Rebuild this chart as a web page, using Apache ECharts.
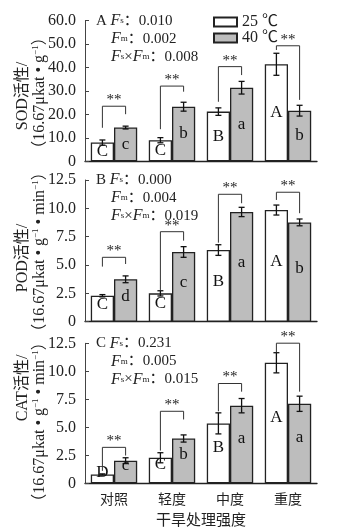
<!DOCTYPE html>
<html>
<head>
    <meta charset="utf-8">
    <script src="https://cdn.jsdelivr.net/npm/echarts@6/dist/echarts.min.js"></script>
</head>
<body style="margin:0;background:#fff;">
    <div id="main" style="width: 353px;height:531px;"></div>
    <script type="text/javascript">
        var categories = ['对照', '轻度', '中度', '重度'];

        // SOD
        var sod25 = [8.0, 9.0, 21.2, 41.4];
        var sod25Err = [1.1, 1.1, 1.6, 4.7];
        var sod40 = [14.4, 23.3, 31.4, 21.6];
        var sod40Err = [0.6, 1.9, 2.7, 2.3];
        var sodLetters25 = ['C', 'C', 'B', 'A'];
        var sodLetters40 = ['c', 'b', 'a', 'b'];
        // [横线高度, 左腿底, 右腿底]
        var sodBrackets = [[23.5, 14.3, 20.1], [32.1, 13.7, 29.7], [40.4, 25.4, 36.8], [49.3, 47.5, 26.2]];

        // POD
        var pod25 = [2.29, 2.5, 6.32, 9.85];
        var pod25Err = [0.1, 0.23, 0.47, 0.44];
        var pod40 = [3.74, 6.15, 9.68, 8.76];
        var pod40Err = [0.3, 0.47, 0.41, 0.3];
        var podLetters25 = ['C', 'C', 'B', 'A'];
        var podLetters40 = ['d', 'c', 'a', 'b'];
        var podBrackets = [[5.68, 4.86, 5.09], [7.94, 2.8, 7.15], [11.24, 6.97, 10.45], [11.42, 10.74, 9.57]];

        // CAT
        var cat25 = [0.79, 2.28, 5.35, 10.76];
        var cat25Err = [0.05, 0.45, 0.94, 0.9];
        var cat40 = [2.02, 4.0, 6.93, 7.1];
        var cat40Err = [0.26, 0.32, 0.64, 0.68];
        var catLetters25 = ['D', 'C', 'B', 'A'];
        var catLetters40 = ['c', 'b', 'a', 'a'];
        var catBrackets = [[3.21, 1.11, 2.48], [6.43, 2.92, 5.7], [8.91, 6.43, 8.18], [12.51, 11.69, 8.18]];

        var panelTags = ['A', 'B', 'C'];
        var statFs = ['0.010', '0.000', '0.231'];
        var statFm = ['0.002', '0.004', '0.005'];
        var statFsFm = ['0.008', '0.019', '0.015'];
        var yMax = [60, 12.5, 12.5];
        var yStep = [10, 2.5, 2.5];

        var panels = [
            { v25: sod25, e25: sod25Err, v40: sod40, e40: sod40Err, l25: sodLetters25, l40: sodLetters40, br: sodBrackets },
            { v25: pod25, e25: pod25Err, v40: pod40, e40: pod40Err, l25: podLetters25, l40: podLetters40, br: podBrackets },
            { v25: cat25, e25: cat25Err, v40: cat40, e40: cat40Err, l25: catLetters25, l40: catLetters40, br: catBrackets }
        ];

        var serif = "'Liberation Serif', 'Noto Sans CJK SC', serif";
        var gridTops = [20.7, 180, 343.3];
        var gridHeights = [140.6, 141.7, 140];
        var letterOffset = [[0, 0], [0, -4], [0, -6]];

        var myChart = echarts.init(document.getElementById('main'));

        function errRender(side) {
            return function (params, api) {
                var idx = api.value(0), v = api.value(1), e = api.value(2);
                var band = api.size([1, 0])[0];
                var c = api.coord([idx, v]);
                var x = c[0] + side * band * 0.2;
                var yHi = api.coord([idx, v + e])[1];
                var yLo = api.coord([idx, v - e])[1];
                var st = { stroke: '#111', lineWidth: 1.3 };
                return {
                    type: 'group',
                    children: [
                        { type: 'line', shape: { x1: x, y1: yHi, x2: x, y2: yLo }, style: st },
                        { type: 'line', shape: { x1: x - 3, y1: yHi, x2: x + 3, y2: yHi }, style: st },
                        { type: 'line', shape: { x1: x - 3, y1: yLo, x2: x + 3, y2: yLo }, style: st }
                    ]
                };
            };
        }

        function bracketRender(params, api) {
            var idx = api.value(0);
            var band = api.size([1, 0])[0];
            var top = api.coord([idx, api.value(1)]);
            var yL = api.coord([idx, api.value(2)])[1];
            var yR = api.coord([idx, api.value(3)])[1];
            var xl = top[0] - band * 0.2, xr = top[0] + band * 0.2;
            return {
                type: 'group',
                children: [
                    { type: 'polyline', shape: { points: [[xl, yL], [xl, top[1]], [xr, top[1]], [xr, yR]] },
                      style: { stroke: '#333', lineWidth: 1, fill: null } },
                    { type: 'text', style: { text: '**', x: top[0], y: top[1] - 6, align: 'center', verticalAlign: 'middle',
                      font: '15px ' + serif, fill: '#222' } }
                ]
            };
        }

        var grids = [], xAxes = [], yAxes = [], series = [], graphics = [];

        panels.forEach(function (p, i) {
            grids.push({ left: 85, top: gridTops[i], width: 232, height: gridHeights[i] });
            xAxes.push({
                type: 'category', gridIndex: i, data: categories,
                axisLine: { lineStyle: { color: '#222', width: 1.3 } },
                axisTick: { show: false },
                axisLabel: { show: i === 2, fontSize: 14, color: '#222', margin: 10, fontFamily: serif },
                name: i === 2 ? '干旱处理强度' : '', nameLocation: 'middle', nameGap: 30,
                nameTextStyle: { fontSize: 15, color: '#222', fontFamily: serif }
            });
            yAxes.push({
                type: 'value', gridIndex: i, min: 0, max: yMax[i], interval: yStep[i],
                axisLine: { show: true, lineStyle: { color: '#444', width: 1 } },
                axisTick: { show: true, inside: true, length: 4, lineStyle: { color: '#444' } },
                splitLine: { show: false },
                axisLabel: {
                    fontSize: 16, color: '#222', margin: 9, fontFamily: serif,
                    formatter: function (v) { return v === 0 ? '0' : v.toFixed(1); }
                }
            });
            var barCommon = {
                type: 'bar', xAxisIndex: i, yAxisIndex: i, barGap: '0%', barCategoryGap: '20%'
            };
            series.push(Object.assign({}, barCommon, {
                name: '25 ℃', data: p.v25,
                itemStyle: { color: '#ffffff', borderColor: '#222', borderWidth: 1.3 },
                label: { show: true, position: 'inside', offset: letterOffset[i], fontSize: 17, color: '#111', fontFamily: serif,
                    formatter: function (pr) { return p.l25[pr.dataIndex]; } }
            }));
            series.push(Object.assign({}, barCommon, {
                name: '40 ℃', data: p.v40,
                itemStyle: { color: '#bdbdbd', borderColor: '#222', borderWidth: 1.3 },
                label: { show: true, position: 'inside', offset: letterOffset[i], fontSize: 17, color: '#111', fontFamily: serif,
                    formatter: function (pr) { return p.l40[pr.dataIndex]; } }
            }));
            series.push({
                type: 'custom', xAxisIndex: i, yAxisIndex: i, z: 5, clip: false,
                renderItem: errRender(-1), encode: { x: 0, y: 1 },
                data: p.v25.map(function (v, k) { return [k, v, p.e25[k]]; })
            });
            series.push({
                type: 'custom', xAxisIndex: i, yAxisIndex: i, z: 5, clip: false,
                renderItem: errRender(1), encode: { x: 0, y: 1 },
                data: p.v40.map(function (v, k) { return [k, v, p.e40[k]]; })
            });
            series.push({
                type: 'custom', xAxisIndex: i, yAxisIndex: i, z: 6, clip: false,
                renderItem: bracketRender, encode: { x: 0, y: 1 },
                data: p.br.map(function (b, k) { return [k, b[0], b[1], b[2]]; })
            });

            // 方差分析文字
            var rich = {
                i: { fontStyle: 'italic', fontSize: 16, fontFamily: serif, lineHeight: 18 },
                s: { fontSize: 9, fontFamily: serif, lineHeight: 10 },
                t: { fontSize: 15, fontFamily: serif, lineHeight: 18 }
            };
            var y0 = gridTops[i];
            graphics.push({ type: 'text', x: 96, y: y0, style: { text: '{t|' + panelTags[i] + ' }{i|F}{s|s}{t|：' + statFs[i] + '}', rich: rich, verticalAlign: 'middle', fill: '#222' } });
            graphics.push({ type: 'text', x: 111, y: y0 + 18, style: { text: '{i|F}{s|m}{t|：' + statFm[i] + '}', rich: rich, verticalAlign: 'middle', fill: '#222' } });
            graphics.push({ type: 'text', x: 111, y: y0 + 36, style: { text: '{i|F}{s|s}{t|×}{i|F}{s|m}{t|：' + statFsFm[i] + '}', rich: rich, verticalAlign: 'middle', fill: '#222' } });
        });

        // 纵轴标题
        var richY = {
            n: { fontSize: 16, fontFamily: serif, lineHeight: 18 },
            u: { fontSize: 9, fontFamily: serif, lineHeight: 10, verticalAlign: 'top' }
        };
        var yTitle1 = ['SOD活性/', 'POD活性/', 'CAT活性/'];
        var yTitle2 = [
            '{n|（16.67μkat • g}{u|−1}{n|）}',
            '{n|（16.67μkat • g}{u|−1}{n| • min}{u|−1}{n|）}',
            '{n|（16.67μkat • g}{u|−1}{n| • min}{u|−1}{n|）}'
        ];
        var yTitle1Center = [96, 258, 388];
        var yTitle2Center = [93, 252, 422];
        for (var k = 0; k < 3; k++) {
            graphics.push({ type: 'text', x: 23, y: yTitle1Center[k], rotation: Math.PI / 2,
                style: { text: '{n|' + yTitle1[k] + '}', rich: richY, align: 'center', verticalAlign: 'middle', fill: '#222' } });
            graphics.push({ type: 'text', x: 40, y: yTitle2Center[k], rotation: Math.PI / 2,
                style: { text: yTitle2[k], rich: richY, align: 'center', verticalAlign: 'middle', fill: '#222' } });
        }

        var option = {
            animation: false,
            backgroundColor: '#fff',
            textStyle: { fontFamily: serif },
            legend: {
                data: ['25 ℃', '40 ℃'], orient: 'vertical', left: 213, top: 14, padding: 0,
                itemWidth: 23, itemHeight: 9, itemGap: 0, icon: 'rect',
                textStyle: { fontSize: 16, color: '#222', fontFamily: serif }
            },
            grid: grids,
            xAxis: xAxes,
            yAxis: yAxes,
            series: series,
            graphic: graphics
        };

        myChart.setOption(option);
    </script>
</body>
</html>
